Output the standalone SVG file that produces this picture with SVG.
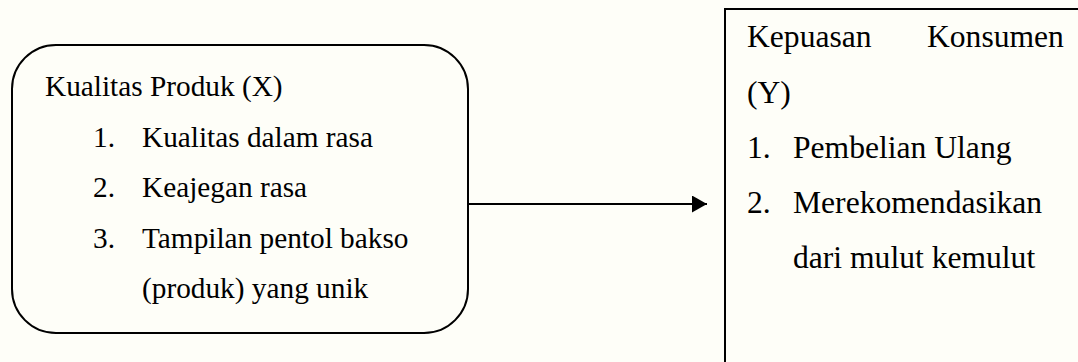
<svg xmlns="http://www.w3.org/2000/svg" width="1078" height="362" viewBox="0 0 1078 362">
<style>
.box{fill:none;stroke:#000;stroke-width:2}
.t{font-family:"Liberation Serif","Times New Roman",serif;fill:#000}
.l{font-size:29.3px}
.r{font-size:31.6px}
.conn{stroke:#000;stroke-width:2;fill:none}
</style>
<defs>
<marker id="ah" markerUnits="userSpaceOnUse" markerWidth="16" markerHeight="17" refX="15" refY="8.5" orient="auto">
<path d="M0,0 L15,8.5 L0,17 Z" fill="#000"/>
</marker>
</defs>
<rect width="1078" height="362" fill="#fefef8"/>
<g id="node-x">
<rect class="box" x="12" y="45" width="456" height="288" rx="44" ry="44"/>
<text class="t l" x="45" y="96">Kualitas Produk (X)</text>
<text class="t l" x="93" y="147">1.</text>
<text class="t l" x="142" y="147">Kualitas dalam rasa</text>
<text class="t l" x="93" y="197">2.</text>
<text class="t l" x="142" y="197">Keajegan rasa</text>
<text class="t l" x="93" y="248">3.</text>
<text class="t l" x="142" y="248">Tampilan pentol bakso</text>
<text class="t l" x="142" y="298">(produk) yang unik</text>
</g>
<g id="node-y">
<rect class="box" x="725" y="9" width="400" height="400"/>
<text class="t r" x="747" y="47">Kepuasan</text>
<text class="t r" x="927" y="47">Konsumen</text>
<text class="t r" x="747" y="103">(Y)</text>
<text class="t r" x="747" y="158">1.</text>
<text class="t r" x="793" y="158">Pembelian Ulang</text>
<text class="t r" x="747" y="213">2.</text>
<text class="t r" x="793" y="213">Merekomendasikan</text>
<text class="t r" x="793" y="268">dari mulut kemulut</text>
</g>
<g id="connectors">
<line class="conn" x1="468" y1="204" x2="707" y2="204" marker-end="url(#ah)"/>
</g>
</svg>
